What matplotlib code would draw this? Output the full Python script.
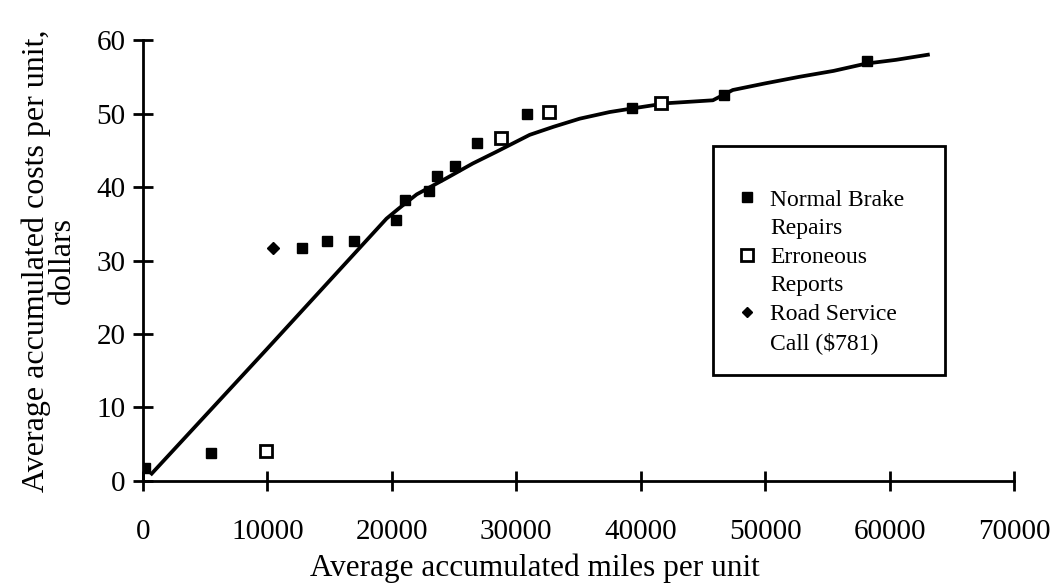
import numpy as np
import matplotlib.pyplot as plt
from matplotlib.lines import Line2D
from matplotlib.patches import Rectangle

plt.rcParams['font.family'] = ['Liberation Serif', 'DejaVu Serif']

# Accumulated cost curve (miles, dollars)
curve_miles = [700, 9930, 19570, 20500, 22000, 24390, 26500, 28410,
               31080, 33000, 35100, 37500, 39360, 42060, 45800, 47400, 50000,
               52770, 55500, 58130, 60500, 63080]
curve_cost = [1.0, 17.9, 35.7, 37.0, 39.0, 41.2, 43.2, 44.8,
              47.1, 48.2, 49.3, 50.2, 50.7, 51.4, 51.8, 53.2, 54.1,
              55.0, 55.8, 56.8, 57.3, 58.0]

# Normal brake repairs
normal_miles = [200, 5500, 12750, 14750, 16970, 20300, 21070, 22970, 23610,
                25060, 26880, 30900, 39330, 46670, 58210]
normal_cost = [1.8, 3.8, 31.7, 32.6, 32.6, 35.5, 38.3, 39.5, 41.5,
               42.8, 46.0, 49.9, 50.7, 52.5, 57.1]

# Erroneous reports
erroneous_miles = [9850, 28750, 32610, 41660]
erroneous_cost = [4.1, 46.7, 50.2, 51.4]

# Road service call ($781)
road_miles = [10470]
road_cost = [31.7]

fig = plt.figure(figsize=(10.6, 5.86), dpi=100)
ax = fig.add_axes([0.1349, 0.1792, 0.8217, 0.7525])

ax.plot(curve_miles, curve_cost, color='black', lw=2.7, zorder=2)
ax.plot(normal_miles, normal_cost, 's', color='black', ms=7, zorder=3)
ax.plot(erroneous_miles, erroneous_cost, 's', mfc='white', mec='black', mew=2, ms=9, zorder=3)
ax.plot(road_miles, road_cost, 'D', color='black', ms=6.5, zorder=3)

ax.set_xlim(0, 70000)
ax.set_ylim(0, 60)
ax.set_xticks(np.arange(0, 70001, 10000))
ax.set_yticks(np.arange(0, 61, 10))

for s in ['top', 'right']:
    ax.spines[s].set_visible(False)
for s in ['left', 'bottom']:
    ax.spines[s].set_linewidth(2)
ax.tick_params(direction='inout', length=15, width=2, labelsize=21, colors='black')
ax.tick_params(axis='x', pad=20)
ax.tick_params(axis='y', pad=5)

ax.set_xlabel('Average accumulated miles per unit', fontsize=22.5)
ax.xaxis.set_label_coords(0.45, -0.165)
ax.set_ylabel('Average accumulated costs per unit,\ndollars', fontsize=23,
              linespacing=0.85)
ax.yaxis.set_label_coords(-0.076, 0.50)

# legend box
ax.add_patch(Rectangle((0.6544, 0.2404), 0.2664, 0.5193, transform=ax.transAxes,
                       fill=False, edgecolor='black', lw=2, zorder=4, clip_on=False))

blank = Line2D([], [], ls='none')
handles = [
    Line2D([], [], ls='none', marker='s', color='black', ms=7),
    blank,
    Line2D([], [], ls='none', marker='s', mfc='white', mec='black', mew=2, ms=9),
    blank,
    Line2D([], [], ls='none', marker='D', color='black', ms=5.5),
    blank,
]
labels = ['Normal Brake', 'Repairs', 'Erroneous', 'Reports', 'Road Service', 'Call ($781)']
leg = ax.legend(handles, labels, loc='upper left', bbox_to_anchor=(0.6797, 0.662),
                fontsize=17, frameon=False, handlelength=1.0, handletextpad=0.48,
                borderpad=0, labelspacing=0.3, borderaxespad=0)

fig.savefig('out.png', dpi=100)
